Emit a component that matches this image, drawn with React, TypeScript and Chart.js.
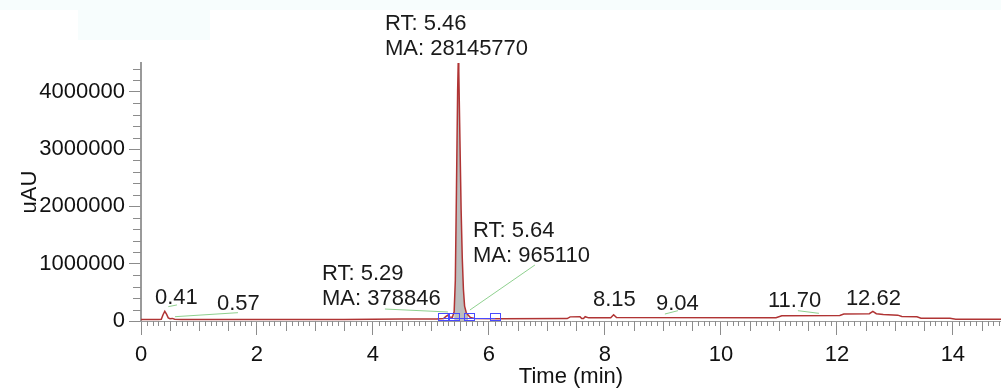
import React, { useEffect, useRef } from 'react';
import { Chart, registerables } from 'chart.js';

Chart.register(...registerables);

// Chromatogram trace (time in min, signal in uAU)
const times = [
  0.0, 0.3, 0.35, 0.38, 0.41, 0.44, 0.47, 0.5, 0.54, 0.58, 0.7, 2.0, 3.5, 4.5, 5.1,
  5.22, 5.26, 5.29, 5.32, 5.37, 5.4, 5.42, 5.44, 5.46, 5.47, 5.48, 5.5, 5.52, 5.54,
  5.56, 5.58, 5.61, 5.64, 5.68, 5.75, 6.2, 7.35, 7.4, 7.57, 7.6, 7.63, 7.66, 7.72,
  8.1, 8.15, 8.2, 10.95, 11.05, 12.05, 12.12, 12.56, 12.62, 12.68, 12.8, 13.05,
  13.12, 13.38, 13.45, 13.95, 14.05, 14.83,
];
const intensity = [
  25000, 25000, 30000, 110000, 170000, 120000, 55000, 40000, 45000, 30000, 25000,
  25000, 28000, 35000, 35000, 45000, 80000, 100000, 70000, 65000, 160000, 700000,
  2300000, 4000000, 4500000, 4350000, 3150000, 1950000, 1100000, 550000, 260000,
  140000, 105000, 60000, 45000, 40000, 42000, 72000, 75000, 42000, 42000, 75000,
  55000, 58000, 110000, 60000, 58000, 92000, 96000, 122000, 128000, 168000, 128000,
  112000, 102000, 78000, 74000, 50000, 48000, 32000, 32000,
];

// Axis tick values
const xTickValues = [0, 2, 4, 6, 8, 10, 12, 14];
const yTickValues = [0, 1000000, 2000000, 3000000, 4000000];

// Integrated (shaded) main peak range
const shadedRange = [5.4, 5.66];

// Peak annotations
const peakLabels = [
  ['0.41'],
  ['0.57'],
  ['RT: 5.29', 'MA: 378846'],
  ['RT: 5.46', 'MA: 28145770'],
  ['RT: 5.64', 'MA: 965110'],
  ['8.15'],
  ['9.04'],
  ['11.70'],
  ['12.62'],
];
// label anchor (left x in min, first-line centre in uAU)
const labelX = [0.241, 1.31, 3.121, 4.207, 5.724, 7.793, 8.879, 10.81, 12.155];
const labelY = [410000, 297000, 820000, 5180000, 1578000, 366000, 305000, 349000, 392000];

// leader lines [x1, y1, x2, y2] in data units
const leaders = [
  [0.47, 250000, 0.62, 280000],
  [0.586, 75000, 1.672, 145000],
  [4.207, 209000, 5.293, 157000],
  [5.672, 192000, 6.793, 977000],
  [9.034, 122000, 9.259, 180000],
  [11.328, 180000, 11.69, 134000],
];

// integration event markers
const markerTimes = [5.21, 5.4, 5.66, 6.11];
const markerLevel = 78000;
const integrationBaseline = 52000;

const xTitle = 'Time (min)';
const yTitle = 'uAU';

const TEXT_FONT = "'Liberation Sans', Arial, Helvetica, sans-serif";

const minorTicksPlugin = {
  id: 'minorTicks',
  afterDraw(chart: any) {
    const ctx = chart.ctx;
    const xs = chart.scales.x;
    const ys = chart.scales.y;
    const area = chart.chartArea;
    ctx.save();
    ctx.strokeStyle = '#8c8c8c';
    ctx.lineWidth = 1;
    ctx.beginPath();
    for (let i = 0; i <= 148; i++) {
      if (i % 20 === 0) continue;
      const t = i / 10;
      const px = Math.round(xs.getPixelForValue(t)) + 0.5;
      const len = i % 5 === 0 ? 10 : 5;
      ctx.moveTo(px, area.bottom);
      ctx.lineTo(px, area.bottom + len);
    }
    for (let j = 0; j <= 22; j++) {
      if (j % 5 === 0) continue;
      const v = j * 200000;
      const py = Math.round(ys.getPixelForValue(v)) + 0.5;
      ctx.moveTo(area.left - 8, py);
      ctx.lineTo(area.left, py);
    }
    ctx.stroke();
    ctx.restore();
  },
};

const backdropPlugin = {
  id: 'backdrop',
  beforeDraw(chart: any) {
    const ctx = chart.ctx;
    ctx.save();
    ctx.fillStyle = '#ffffff';
    ctx.fillRect(0, 0, chart.width, chart.height);
    ctx.fillStyle = '#f7fdfd';
    ctx.fillRect(0, 0, chart.width, 10);
    ctx.fillRect(78, 10, 132, 30);
    ctx.restore();
  },
};

const annotationPlugin = {
  id: 'peakAnnotations',
  afterDatasetsDraw(chart: any) {
    const ctx = chart.ctx;
    const xs = chart.scales.x;
    const ys = chart.scales.y;
    ctx.save();
    // leader lines
    ctx.strokeStyle = '#8fd18f';
    ctx.lineWidth = 1;
    leaders.forEach((l) => {
      ctx.beginPath();
      ctx.moveTo(xs.getPixelForValue(l[0]), ys.getPixelForValue(l[1]));
      ctx.lineTo(xs.getPixelForValue(l[2]), ys.getPixelForValue(l[3]));
      ctx.stroke();
    });
    // integration markers
    ctx.strokeStyle = '#4a4aff';
    ctx.lineWidth = 1;
    const by = Math.round(ys.getPixelForValue(integrationBaseline)) + 0.5;
    ctx.beginPath();
    ctx.moveTo(xs.getPixelForValue(markerTimes[0]), by);
    ctx.lineTo(xs.getPixelForValue(markerTimes[markerTimes.length - 1]), by);
    ctx.stroke();
    const my = ys.getPixelForValue(markerLevel);
    markerTimes.forEach((t) => {
      const mx = xs.getPixelForValue(t);
      ctx.strokeRect(Math.round(mx - 5) + 0.5, Math.round(my - 3.5) + 0.5, 10, 7);
    });
    // labels
    ctx.fillStyle = '#1a1a1a';
    ctx.font = `22px ${TEXT_FONT}`;
    ctx.textAlign = 'left';
    ctx.textBaseline = 'middle';
    peakLabels.forEach((lines, i) => {
      const px = xs.getPixelForValue(labelX[i]);
      const py = ys.getPixelForValue(labelY[i]);
      lines.forEach((txt, k) => {
        ctx.fillText(txt, px, py + k * 25);
      });
    });
    ctx.restore();
  },
};

export default function App() {
  const canvasRef = useRef<HTMLCanvasElement | null>(null);

  useEffect(() => {
    document.body.style.margin = '0';
    const canvas = canvasRef.current;
    if (!canvas) return;
    const trace = times.map((t, i) => ({ x: t, y: intensity[i] }));
    const shaded = trace.filter((p) => p.x >= shadedRange[0] && p.x <= shadedRange[1]);

    const chart = new Chart(canvas, {
      type: 'line',
      data: {
        datasets: [
          {
            data: trace,
            borderColor: '#b03434',
            borderWidth: 1.5,
            pointRadius: 0,
            fill: false,
            tension: 0,
            order: 1,
          },
          {
            data: shaded,
            borderColor: 'rgba(0,0,0,0)',
            borderWidth: 0,
            backgroundColor: '#bdbdbd',
            pointRadius: 0,
            fill: 'origin',
            tension: 0,
            order: 2,
          },
        ],
      },
      options: {
        animation: false,
        responsive: false,
        devicePixelRatio: 1,
        layout: { padding: { top: 63, right: 0, left: 0, bottom: 0 } },
        plugins: {
          legend: { display: false },
          tooltip: { enabled: false },
          title: { display: false },
        },
        scales: {
          x: {
            type: 'linear',
            min: 0,
            max: 14.83,
            afterFit: (s: any) => {
              s.height = 71;
            },
            afterBuildTicks: (s: any) => {
              s.ticks = xTickValues.map((v) => ({ value: v }));
            },
            ticks: {
              autoSkip: false,
              maxRotation: 0,
              padding: 7,
              color: '#111',
              font: { family: TEXT_FONT, size: 22 },
              callback: (v: any) => String(v),
            },
            grid: {
              display: true,
              drawOnChartArea: false,
              drawTicks: true,
              tickLength: 14,
              color: '#8c8c8c',
              lineWidth: 1,
            },
            border: { display: true, color: '#9a9a9a', width: 1 },
            title: {
              display: true,
              text: xTitle,
              color: '#111',
              font: { family: TEXT_FONT, size: 22, lineHeight: 1.2 },
              padding: { top: 0, bottom: 2 },
            },
          },
          y: {
            type: 'linear',
            min: 0,
            max: 4500000,
            afterFit: (s: any) => {
              s.width = 141;
            },
            afterBuildTicks: (s: any) => {
              s.ticks = yTickValues.map((v) => ({ value: v }));
            },
            ticks: {
              autoSkip: false,
              padding: 4,
              color: '#111',
              font: { family: TEXT_FONT, size: 22 },
              callback: (v: any) => String(v),
            },
            grid: {
              display: true,
              drawOnChartArea: false,
              drawTicks: true,
              tickLength: 12,
              color: '#8c8c8c',
              lineWidth: 1,
            },
            border: { display: true, color: '#9a9a9a', width: 2 },
            title: {
              display: true,
              text: yTitle,
              color: '#111',
              font: { family: TEXT_FONT, size: 22, lineHeight: 1.2 },
              padding: { top: 17, bottom: 0 },
            },
          },
        },
      },
      plugins: [backdropPlugin, minorTicksPlugin, annotationPlugin],
    });
    return () => chart.destroy();
  }, []);

  return (
    <div style={{ position: 'absolute', left: 0, top: 0, width: 1001, height: 392 }}>
      <canvas ref={canvasRef} width={1001} height={392} style={{ display: 'block' }} />
    </div>
  );
}
